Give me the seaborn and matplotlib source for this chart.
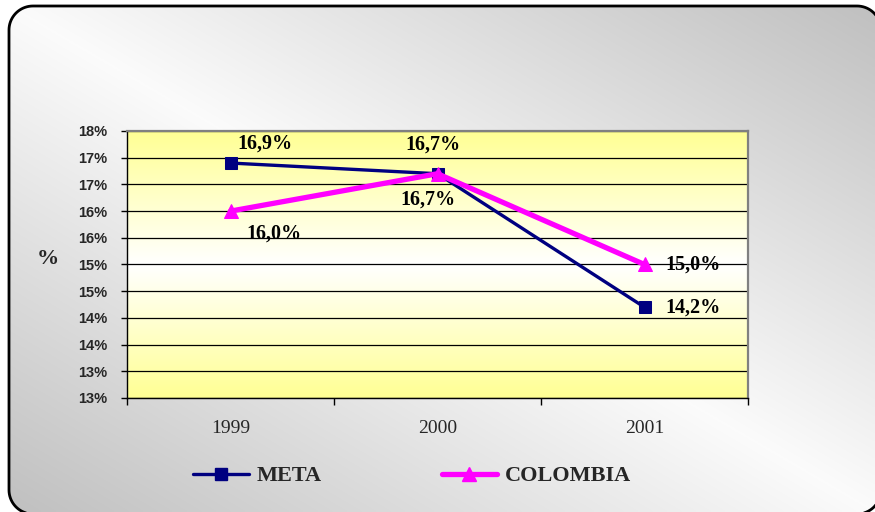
import math
import numpy as np
import pandas as pd
import matplotlib
matplotlib.use('Agg')
import matplotlib.pyplot as plt
import seaborn as sns
from matplotlib.patches import Polygon
from matplotlib.lines import Line2D
from matplotlib.ticker import FuncFormatter, FixedLocator

# Datos del gráfico
anios = ['1999', '2000', '2001']
meta = [16.9, 16.7, 14.2]
colombia = [16.0, 16.7, 15.0]
series = ['META', 'COLOMBIA']
y_ticks = [12.5, 13.0, 13.5, 14.0, 14.5, 15.0, 15.5, 16.0, 16.5, 17.0, 17.5]

df = pd.DataFrame({
    'Año': anios * 2,
    'Valor': meta + colombia,
    'Serie': ['META'] * len(anios) + ['COLOMBIA'] * len(anios),
})

# Estilos
colores = {'META': '#000080', 'COLOMBIA': '#ff00ff'}
marcadores = {'META': 's', 'COLOMBIA': '^'}
grosor = {'META': 2.4, 'COLOMBIA': 3.8}
tam_marcador = {'META': 8.5, 'COLOMBIA': 10}
# desplazamiento de las etiquetas (pixeles) y alineación
offsets = {
    'META': [(34, 19, 'center'), (-5, 29, 'center'), (21, 0, 'left')],
    'COLOMBIA': [(43, -22, 'center'), (-10, -26, 'center'), (21, 0, 'left')],
}

sns.set_theme(style='white')
plt.rcParams['font.family'] = ['Liberation Serif', 'DejaVu Serif']

W, H = 875, 512
fig = plt.figure(figsize=(W / 100, H / 100), dpi=100)


def rect_redondeado(x0, y0, x1, y1, r, n=20):
    # esquinas como arcos poligonales (evita curvas bezier fuera del lienzo)
    pts = []
    for cx, cy, a0 in [(x1 - r, y1 - r, 0), (x0 + r, y1 - r, 90),
                       (x0 + r, y0 + r, 180), (x1 - r, y0 + r, 270)]:
        ang = np.radians(np.linspace(a0, a0 + 90, n))
        pts += list(zip(cx + r * np.cos(ang), cy + r * np.sin(ang)))
    return np.array(pts)


# Fondo con degradado y borde redondeado (coordenadas en pixeles)
bg = fig.add_axes([0, 0, 1, 1], zorder=-10)
bg.set_xlim(0, W)
bg.set_ylim(0, H)
bg.axis('off')
xx, yy = np.meshgrid(np.linspace(0, 1, 300), np.linspace(0, 1, 200))
shade = 0.985 - 0.235 * np.abs(xx - yy)
im = bg.imshow(np.dstack([shade] * 3), extent=(0, W, 0, H), origin='upper',
               aspect='auto', interpolation='bilinear')
caja = Polygon(rect_redondeado(9, H - 514, 881, H - 6, 24), closed=True,
               fc='none', ec='black', lw=2, clip_on=False)
bg.add_patch(caja)
im.set_clip_path(caja)
bg.set_xlim(0, W)
bg.set_ylim(0, H)

# Área de trazado
ax = fig.add_axes([127 / W, 1 - 398 / H, (748 - 127) / W, (398 - 131) / H])
ygrad = np.abs(np.linspace(-1, 1, 200))[:, None]
fondo = np.dstack([np.ones_like(ygrad), np.ones_like(ygrad), 1 - 0.42 * ygrad])
ax.imshow(fondo, extent=(0, 1, 0, 1), transform=ax.transAxes, aspect='auto',
          zorder=-1, interpolation='bilinear')

for s in series:
    d = df[df['Serie'] == s]
    sns.lineplot(data=d, x='Año', y='Valor', ax=ax, color=colores[s],
                 marker=marcadores[s], markersize=tam_marcador[s],
                 markeredgecolor=colores[s], linewidth=grosor[s],
                 legend=False, zorder=3)
    for i, v in enumerate(d['Valor']):
        dx, dy, ha = offsets[s][i]
        ax.annotate(f'{v:.1f}%'.replace('.', ','), xy=(i, v), xytext=(dx, dy),
                    textcoords='offset pixels', ha=ha, va='center',
                    fontsize=14.5, fontweight='bold', color='black', zorder=4)

ax.set_xlim(-0.5, len(anios) - 0.5)
ax.set_ylim(y_ticks[0], y_ticks[-1])
ax.set_yticks(y_ticks)
ax.yaxis.set_major_formatter(FuncFormatter(lambda v, p: f'{math.floor(v + 0.5 + 1e-9):d}%'))
ax.set_xticks(range(len(anios)), anios)
ax.xaxis.set_minor_locator(FixedLocator([i - 0.5 for i in range(len(anios) + 1)]))

ax.set_xlabel('')
ax.set_ylabel('')
ax.grid(axis='y', color='black', linewidth=0.9)
ax.grid(axis='x', visible=False)
ax.set_axisbelow(True)

for lado in ['left', 'bottom']:
    ax.spines[lado].set_color('black')
    ax.spines[lado].set_linewidth(1)
for lado in ['top', 'right']:
    ax.spines[lado].set_color('#808080')
    ax.spines[lado].set_linewidth(1.6)

ax.tick_params(axis='y', which='major', direction='out', length=4, width=1,
               color='black', left=True, pad=10)
ax.tick_params(axis='x', which='major', length=0, pad=16)
ax.tick_params(axis='x', which='minor', direction='out', length=5, width=1,
               color='black', bottom=True)
for t in ax.get_yticklabels():
    t.set_fontfamily(['Liberation Sans', 'DejaVu Sans'])
    t.set_fontweight('bold')
    t.set_fontsize(10.5)
for t in ax.get_xticklabels():
    t.set_fontsize(14)

fig.text(48 / W, 1 - 259 / H, '%', ha='center', va='center',
         fontsize=16, fontweight='bold')

# Leyenda
handles = [Line2D([], [], color=colores[s], lw=grosor[s], marker=marcadores[s],
                  markersize=tam_marcador[s], markeredgecolor=colores[s])
           for s in series]
fig.legend(handles, series, loc='center left', bbox_to_anchor=(193 / W, 1 - 476 / H),
           ncol=2, frameon=False, numpoints=1, handlelength=2.5,
           handletextpad=0.36, columnspacing=5.4, borderpad=0, borderaxespad=0,
           prop={'family': 'Liberation Serif', 'weight': 'bold', 'size': 16})

fig.savefig('out.png', dpi=100)
